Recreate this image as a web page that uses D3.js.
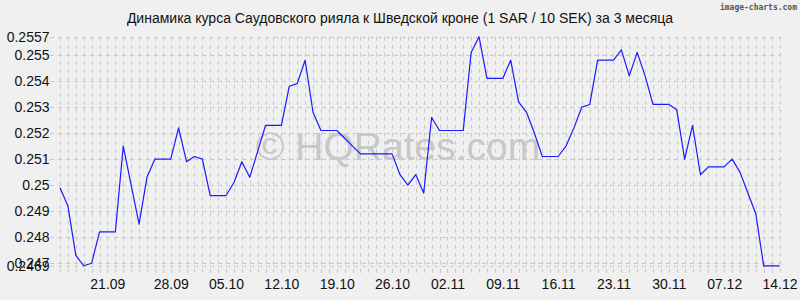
<!DOCTYPE html>
<html>
<head>
<meta charset="utf-8">
<script src="https://cdn.jsdelivr.net/npm/d3@7"></script>
<style>
  html, body { margin: 0; padding: 0; background: #f0f0f0; }
  svg { display: block; }
</style>
</head>
<body>
<div id="chart"></div>
<script>
// ---- Data ----
const startDate = "2025-09-14";
const endDate = "2025-12-14";
const rates = [
  0.2499, 0.2492, 0.2473, 0.2469, 0.2470, 0.2482, 0.2482, 0.2482, 0.2515, 0.2500,
  0.2485, 0.2503, 0.2510, 0.2510, 0.2510, 0.2522, 0.2509, 0.2511, 0.2510, 0.2496,
  0.2496, 0.2496, 0.2501, 0.2509, 0.2503, 0.2513, 0.2523, 0.2523, 0.2523, 0.2538,
  0.2539, 0.2548, 0.2528, 0.2521, 0.2521, 0.2521, 0.2518, 0.2515, 0.2512, 0.2512,
  0.2512, 0.2512, 0.2512, 0.2504, 0.2500, 0.2504, 0.2497, 0.2526, 0.2521, 0.2521,
  0.2521, 0.2521, 0.2551, 0.2557, 0.2541, 0.2541, 0.2541, 0.2548, 0.2532, 0.2528,
  0.2520, 0.2511, 0.2511, 0.2511, 0.2515, 0.2522, 0.2530, 0.2531, 0.2548, 0.2548,
  0.2548, 0.2552, 0.2542, 0.2551, 0.2542, 0.2531, 0.2531, 0.2531, 0.2529, 0.2510,
  0.2523, 0.2504, 0.2507, 0.2507, 0.2507, 0.2510, 0.2505, 0.2497, 0.2489, 0.2469,
  0.2469, 0.2469
];
const yTickValues = [0.2469, 0.247, 0.248, 0.249, 0.25, 0.251, 0.252, 0.253, 0.254, 0.255, 0.2557];
const yTickLabels = ["0.2469", "0.247", "0.248", "0.249", "0.25", "0.251", "0.252", "0.253", "0.254", "0.255", "0.2557"];
const xTickLabels = ["21.09", "28.09", "05.10", "12.10", "19.10", "26.10", "02.11", "09.11", "16.11", "23.11", "30.11", "07.12", "14.12"];
const titleText = "Динамика курса Саудовского рияла к Шведской кроне (1 SAR / 10 SEK) за 3 месяца";
const watermarkText = "© HQRates.com";
const creditText = "image-charts.com";

// ---- Setup ----
const W = 800, H = 300;
const parse = d3.timeParse("%Y-%m-%d");
const d0 = parse(startDate), d1 = parse(endDate);
const days = d3.timeDay.range(d0, d3.timeDay.offset(d1, 1));
const data = days.map((d, i) => ({ date: d, value: rates[i] }));

const x = d3.scaleTime().domain([d0, d1]).range([60, 779.5]);
const y = d3.scaleLinear().domain([0.2469, 0.2557]).range([265.8, 36.8]);

const svg = d3.select("#chart").append("svg")
  .attr("width", W).attr("height", H);

svg.append("rect").attr("width", W).attr("height", H).attr("fill", "#f0f0f0");

const gridColor = "#c9c9c9";

// vertical grid (daily)
svg.append("g").selectAll("line").data(days).join("line")
  .attr("x1", d => Math.round(x(d)) + 0.5).attr("x2", d => Math.round(x(d)) + 0.5)
  .attr("y1", y(0.2557)).attr("y2", 275)
  .attr("stroke", gridColor).attr("stroke-width", 1)
  .attr("stroke-dasharray", "4,4");

// horizontal grid
svg.append("g").selectAll("line").data(yTickValues).join("line")
  .attr("x1", 50).attr("x2", 780)
  .attr("y1", d => Math.round(y(d)) + 0.5).attr("y2", d => Math.round(y(d)) + 0.5)
  .attr("stroke", gridColor).attr("stroke-width", 1)
  .attr("stroke-dasharray", "4,4");

// watermark
svg.append("text")
  .attr("x", 398).attr("y", 160)
  .attr("text-anchor", "middle")
  .attr("font-family", "Liberation Sans, Arial, sans-serif")
  .attr("font-size", 39)
  .attr("fill", "#c8c8c8")
  .text(watermarkText);

// line
const line = d3.line().x(d => x(d.date)).y(d => y(d.value));
svg.append("path").datum(data)
  .attr("d", line)
  .attr("fill", "none")
  .attr("stroke", "#1a1aff")
  .attr("stroke-width", 1.2)
  .attr("stroke-linejoin", "round");

// y axis labels
const yAxis = d3.axisLeft(y)
  .tickValues(yTickValues)
  .tickFormat((d, i) => yTickLabels[i])
  .tickSize(0).tickPadding(0);
const gy = svg.append("g").attr("transform", "translate(49.5,0)").call(yAxis);
gy.select(".domain").remove();
gy.selectAll("text")
  .attr("font-family", "Liberation Sans, Arial, sans-serif")
  .attr("font-size", 14).attr("fill", "#111");

// x axis labels
const xTickDates = xTickLabels.map(s => {
  const [dd, mm] = s.split(".");
  return parse(`2025-${mm}-${dd}`);
});
const xAxis = d3.axisBottom(x)
  .tickValues(xTickDates)
  .tickFormat((d, i) => xTickLabels[i])
  .tickSize(0).tickPadding(0);
const gx = svg.append("g").attr("transform", "translate(0,279.5)").call(xAxis);
gx.select(".domain").remove();
gx.selectAll("text")
  .attr("font-family", "Liberation Sans, Arial, sans-serif")
  .attr("font-size", 14).attr("fill", "#111")
  .attr("dx", (d, i) => i === 0 ? -8 : 0);

// title
svg.append("text")
  .attr("x", 400).attr("y", 23)
  .attr("text-anchor", "middle")
  .attr("font-family", "Liberation Sans, Arial, sans-serif")
  .attr("font-size", 14).attr("fill", "#111")
  .text(titleText);

// credit
svg.append("text")
  .attr("x", 797).attr("y", 10)
  .attr("text-anchor", "end")
  .attr("font-family", "DejaVu Sans Mono, monospace")
  .attr("font-weight", "bold")
  .attr("font-size", 8).attr("fill", "#555")
  .text(creditText);
</script>
</body>
</html>
